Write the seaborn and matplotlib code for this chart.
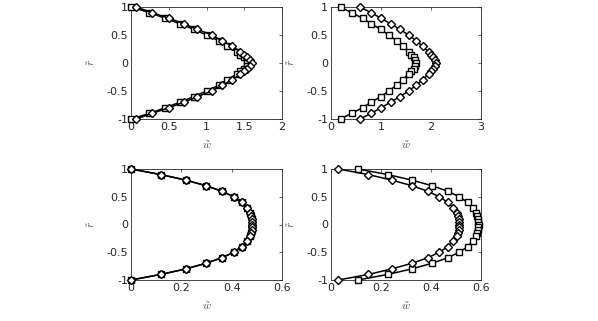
import matplotlib
matplotlib.use("Agg")
import matplotlib.pyplot as plt
import seaborn as sns
import numpy as np

# radial positions (shared by every profile)
r = [1.0, 0.9, 0.8, 0.7, 0.6, 0.5, 0.4, 0.3, 0.2, 0.15, 0.1, 0.05, 0.0,
     -0.05, -0.1, -0.15, -0.2, -0.3, -0.4, -0.5, -0.6, -0.7, -0.8, -0.9, -1.0]

# panel (a): top left
w_a_sq = [0.0, 0.245, 0.45, 0.65, 0.83, 1.0, 1.16, 1.27, 1.4, 1.45, 1.5, 1.53, 1.54,
          1.53, 1.5, 1.45, 1.4, 1.27, 1.16, 1.0, 0.83, 0.65, 0.45, 0.245, 0.0]
w_a_di = [0.067, 0.28, 0.5, 0.7, 0.88, 1.07, 1.2, 1.34, 1.45, 1.5, 1.54, 1.58, 1.6,
          1.58, 1.54, 1.5, 1.45, 1.34, 1.2, 1.07, 0.88, 0.7, 0.5, 0.28, 0.067]

# panel (b): top right
w_b_sq = [0.19, 0.41, 0.63, 0.8, 1.0, 1.15, 1.31, 1.43, 1.55, 1.6, 1.65, 1.68, 1.7,
          1.68, 1.65, 1.6, 1.55, 1.43, 1.31, 1.15, 1.0, 0.8, 0.63, 0.41, 0.19]
w_b_di = [0.58, 0.8, 1.0, 1.19, 1.38, 1.55, 1.7, 1.83, 1.95, 1.99, 2.03, 2.07, 2.1,
          2.07, 2.03, 1.99, 1.95, 1.83, 1.7, 1.55, 1.38, 1.19, 1.0, 0.8, 0.58]

# panel (c): bottom left
w_c_sq = [0.0, 0.118, 0.218, 0.297, 0.361, 0.408, 0.44, 0.46, 0.473, 0.477, 0.48, 0.481, 0.482,
          0.481, 0.48, 0.477, 0.473, 0.46, 0.44, 0.408, 0.361, 0.297, 0.218, 0.118, 0.0]
w_c_di = [0.0, 0.118, 0.218, 0.297, 0.361, 0.408, 0.44, 0.46, 0.473, 0.477, 0.48, 0.481, 0.482,
          0.481, 0.48, 0.477, 0.473, 0.46, 0.44, 0.408, 0.361, 0.297, 0.218, 0.118, 0.0]

# panel (d): bottom right
w_d_sq = [0.107, 0.227, 0.323, 0.403, 0.467, 0.512, 0.547, 0.567, 0.58, 0.584, 0.587, 0.589, 0.59,
          0.589, 0.587, 0.584, 0.58, 0.567, 0.547, 0.512, 0.467, 0.403, 0.323, 0.227, 0.107]
w_d_di = [0.029, 0.149, 0.243, 0.323, 0.387, 0.433, 0.467, 0.489, 0.503, 0.507, 0.51, 0.512, 0.513,
          0.512, 0.51, 0.507, 0.503, 0.489, 0.467, 0.433, 0.387, 0.323, 0.243, 0.149, 0.029]

xlims = [(0, 2), (0, 3), (0, 0.6), (0, 0.6)]
xticks = [[0, 0.5, 1, 1.5, 2], [0, 1, 2, 3], [0, 0.2, 0.4, 0.6], [0, 0.2, 0.4, 0.6]]
xticklabels = [["0", "0.5", "1", "1.5", "2"], ["0", "1", "2", "3"],
               ["0", "0.2", "0.4", "0.6"], ["0", "0.2", "0.4", "0.6"]]
yticks = [-1, -0.5, 0, 0.5, 1]
yticklabels = ["-1", "-0.5", "0", "0.5", "1"]

sns.set_style("white")
plt.rcParams["font.family"] = ["DejaVu Sans"]
plt.rcParams["mathtext.fontset"] = "cm"

fig = plt.figure(figsize=(5.98, 3.21), dpi=100)
W, H = 598, 321
boxes = [(131, 7, 282, 119), (331, 7, 481, 119), (131, 169, 282, 280), (331, 169, 481, 280)]
series = [(w_a_sq, w_a_di), (w_b_sq, w_b_di), (w_c_sq, w_c_di), (w_d_sq, w_d_di)]

for i, (x0, y0, x1, y1) in enumerate(boxes):
    ax = fig.add_axes([x0 / W, 1 - y1 / H, (x1 - x0) / W, (y1 - y0) / H])
    sq, di = series[i]
    sns.lineplot(x=sq, y=r, sort=False, estimator=None, ax=ax, color="k", lw=1.1,
                 marker="s", markersize=4.5, markerfacecolor="white",
                 markeredgecolor="k", markeredgewidth=1.0, clip_on=False, zorder=3)
    sns.lineplot(x=di, y=r, sort=False, estimator=None, ax=ax, color="k", lw=1.1,
                 marker="D", markersize=4.5, markerfacecolor="white",
                 markeredgecolor="k", markeredgewidth=1.0, clip_on=False, zorder=3)
    ax.set_xlim(*xlims[i])
    ax.set_ylim(-1, 1)
    ax.set_xticks(xticks[i])
    ax.set_xticklabels(xticklabels[i])
    ax.set_yticks(yticks)
    ax.set_yticklabels(yticklabels)
    ax.tick_params(direction="in", length=2.5, width=0.5, labelsize=8,
                   top=True, right=True, colors="0.15", pad=2)
    for s in ax.spines.values():
        s.set_linewidth(0.6)
        s.set_color("0.15")
    ax.set_xlabel(r"$\tilde{w}$", fontsize=8, labelpad=5, color="0.3")
    ax.set_ylabel(r"$\tilde{r}$", fontsize=8, labelpad=7, color="0.3")

fig.savefig("out.png", dpi=100)
